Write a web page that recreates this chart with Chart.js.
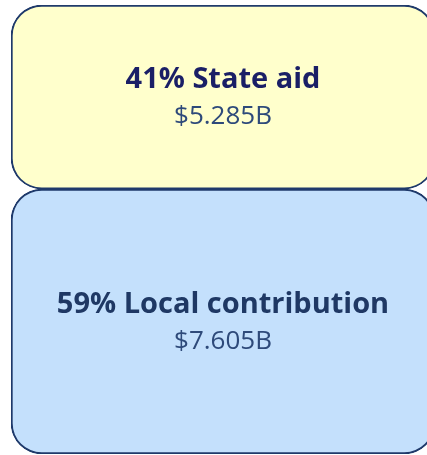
<!DOCTYPE html>
<html>
<head>
<meta charset="utf-8">
<script src="https://cdn.jsdelivr.net/npm/chart.js@4"></script>
<style>
  html, body { margin: 0; padding: 0; background: #ffffff; overflow: hidden; }
  #wrap { width: 436px; height: 455px; }
</style>
</head>
<body>
<div id="wrap"><canvas id="fundingChart"></canvas></div>
<script>
'use strict';

// funding sources, bottom of the stack first
const sources = ['Local contribution', 'State aid'];
const amounts = [7.605, 5.285]; // $ billions
const fills = ['#c4e0fc', '#ffffcc'];
const titleColors = ['#1f3864', '#1a1f66'];

const total = amounts.reduce((a, b) => a + b, 0);

const boxLabels = {
  id: 'boxLabels',
  afterDatasetsDraw(chart) {
    const ctx = chart.ctx;
    ctx.save();
    ctx.textAlign = 'center';
    ctx.textBaseline = 'middle';
    chart.data.datasets.forEach((ds, i) => {
      const bar = chart.getDatasetMeta(i).data[0];
      const cx = bar.x;
      const cy = (bar.y + bar.base) / 2;
      const pct = Math.round(ds.data[0] / total * 100);
      ctx.fillStyle = titleColors[i];
      ctx.font = 'bold 29px "Open Sans"';
      ctx.fillText(pct + '% ' + ds.label, cx, cy - 17);
      ctx.fillStyle = '#2e4a7a';
      ctx.font = '26px "Open Sans"';
      ctx.fillText('$' + ds.data[0].toFixed(3) + 'B', cx, cy + 20);
    });
    ctx.restore();
  }
};

function populateFundingChart() {
  const ctx = document.getElementById('fundingChart').getContext('2d');

  new Chart(ctx, {
    type: 'bar',
    data: {
      labels: ['Funding'],
      datasets: sources.map((name, i) => ({
        label: name,
        data: [amounts[i]],
        backgroundColor: fills[i],
        borderColor: '#1f3a6b',
        borderWidth: 2,
        borderSkipped: false,
        borderRadius: { topLeft: 31, topRight: 31, bottomLeft: 31, bottomRight: 31 },
        categoryPercentage: 1,
        barPercentage: 1
      }))
    },
    options: {
      responsive: true,
      maintainAspectRatio: false,
      animation: false,
      layout: { padding: { left: 11, right: 1, top: 5, bottom: 1 } },
      plugins: { legend: { display: false }, tooltip: { enabled: false } },
      scales: {
        x: { stacked: true, display: false },
        y: { stacked: true, display: false, min: 0, max: total }
      }
    },
    plugins: [boxLabels]
  });
}

populateFundingChart();
</script>
</body>
</html>
